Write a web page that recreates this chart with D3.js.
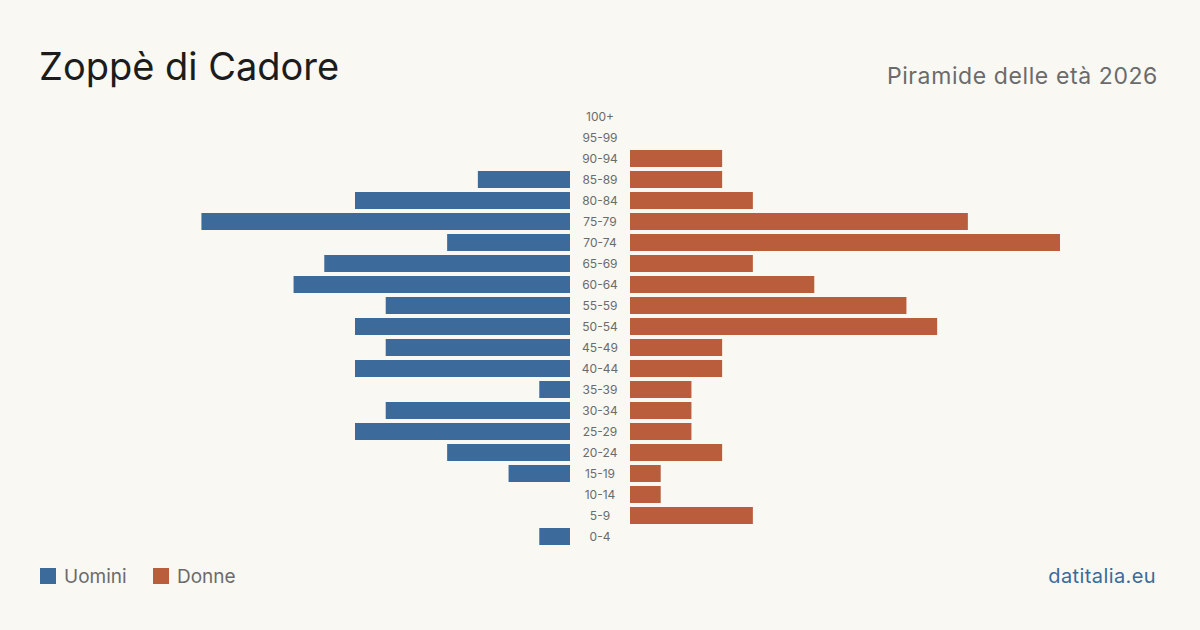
<!DOCTYPE html>
<html>
<head>
<meta charset="utf-8">
<script src="https://cdn.jsdelivr.net/npm/d3@7"></script>
<style>
  html, body { margin: 0; padding: 0; background: #f9f8f3; }
  svg { display: block; font-family: Inter, "Noto Sans", sans-serif; }
</style>
</head>
<body>
<svg id="chart" width="1200" height="630"></svg>
<script>
"use strict";

var ageGroups = ["100+", "95-99", "90-94", "85-89", "80-84", "75-79", "70-74", "65-69", "60-64", "55-59",
  "50-54", "45-49", "40-44", "35-39", "30-34", "25-29", "20-24", "15-19", "10-14", "5-9", "0-4"];
var men   = [0, 0, 0, 3, 7, 12, 4, 8, 9, 6, 7, 6, 7, 1, 6, 7, 4, 2, 0, 0, 1];
var women = [0, 0, 3, 3, 4, 11, 14, 4, 6, 9, 10, 3, 3, 2, 2, 2, 3, 1, 1, 4, 0];

var config = {
  width: 1200, height: 630,
  centerL: 570, centerR: 630, half: 430,
  top: 106, step: 21,
  blue: "#3b6a9b", orange: "#b95d3d"
};

var svg = d3.select("#chart");

svg.append("rect")
  .attr("width", config.width)
  .attr("height", config.height)
  .attr("fill", "#f9f8f3");

var y = d3.scaleBand()
  .domain(ageGroups)
  .range([config.top, config.top + config.step * ageGroups.length])
  .paddingInner(4 / 21)
  .paddingOuter(2 / 21);

var maxVal = d3.max(men.concat(women));
var xL = d3.scaleLinear().domain([0, maxVal]).range([config.centerL, config.centerL - config.half]);
var xR = d3.scaleLinear().domain([0, maxVal]).range([config.centerR, config.centerR + config.half]);

// title + subtitle
svg.append("text")
  .attr("x", 39).attr("y", 80)
  .attr("fill", "#1c1c1c")
  .style("font-size", "38px")
  .text("Zoppè di Cadore");

svg.append("text")
  .attr("x", 1158).attr("y", 84)
  .attr("text-anchor", "end")
  .attr("fill", "#6b6b6b")
  .style("font-size", "23px")
  .style("letter-spacing", "0.6px")
  .text("Piramide delle età 2026");

// bars
svg.append("g").selectAll("rect")
  .data(ageGroups.filter(function(d, i) { return men[i] > 0; }))
  .join("rect")
  .attr("x", function(d) { return xL(men[ageGroups.indexOf(d)]); })
  .attr("y", function(d) { return y(d); })
  .attr("width", function(d) { return config.centerL - xL(men[ageGroups.indexOf(d)]); })
  .attr("height", y.bandwidth())
  .attr("fill", config.blue);

svg.append("g").selectAll("rect")
  .data(ageGroups.filter(function(d, i) { return women[i] > 0; }))
  .join("rect")
  .attr("x", config.centerR)
  .attr("y", function(d) { return y(d); })
  .attr("width", function(d) { return xR(women[ageGroups.indexOf(d)]) - config.centerR; })
  .attr("height", y.bandwidth())
  .attr("fill", config.orange);

// age labels
svg.append("g").selectAll("text")
  .data(ageGroups)
  .join("text")
  .attr("x", (config.centerL + config.centerR) / 2)
  .attr("y", function(d) { return y(d) + y.bandwidth() / 2; })
  .attr("dy", "0.35em")
  .attr("text-anchor", "middle")
  .attr("fill", "#6b6b6b")
  .style("font-size", "12px")
  .text(function(d) { return d; });

// legend
var legend = [{ label: "Uomini", color: config.blue, x: 40 }, { label: "Donne", color: config.orange, x: 153 }];
var lg = svg.append("g").selectAll("g")
  .data(legend)
  .join("g")
  .attr("transform", function(d) { return "translate(" + d.x + ",568)"; });
lg.append("rect").attr("width", 16).attr("height", 16).attr("fill", function(d) { return d.color; });
lg.append("text")
  .attr("x", 24).attr("y", 8).attr("dy", "0.35em")
  .attr("fill", "#6b6b6b")
  .style("font-size", "19px")
  .text(function(d) { return d.label; });

svg.append("text")
  .attr("x", 1156).attr("y", 583)
  .attr("text-anchor", "end")
  .attr("fill", config.blue)
  .style("font-size", "20px")
  .style("letter-spacing", "0.4px")
  .text("datitalia.eu");
</script>
</body>
</html>
